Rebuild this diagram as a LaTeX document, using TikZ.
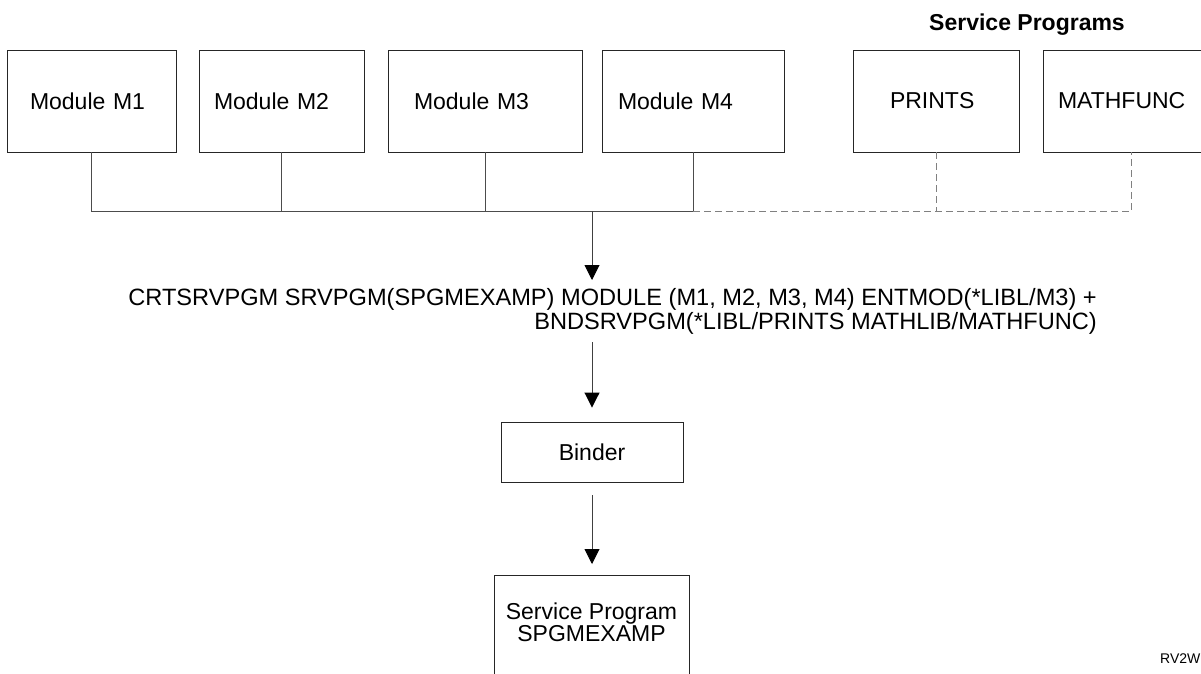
\documentclass[tikz,border=0pt]{standalone}
\usepackage{fontspec}
\setmainfont{Liberation Sans}
\usetikzlibrary{arrows.meta,calc}
\begin{document}
\begin{tikzpicture}[x=1pt,y=-1pt,
  every node/.style={font=\fontsize{23}{22}\selectfont},
  box/.style 2 args={draw=black!85,line width=0.9pt,minimum height=102pt,text width=#1,inner xsep=#2,inner ysep=0pt,align=left},
  conn/.style={draw=black!70,line width=0.9pt},
  dconn/.style={draw=black!50,line width=0.9pt,dash pattern=on 7pt off 4pt},
  arr/.style={draw=black!75,line width=0.9pt,-{Triangle[width=15pt,length=15pt,color=black]}},
  plain/.style={draw=black!85,line width=0.9pt}
]
\useasboundingbox (0,0) rectangle (1201,673);

% title
\node[anchor=base,font=\fontsize{23}{24}\selectfont\bfseries,inner sep=0pt] (sptitle) at (1027,30) {Service Programs};

% boxes
\node[box={123pt}{23pt}] (m1) at (91.5,101) {Module M1};
\node[box={135pt}{15pt}] (m2) at (281.5,101) {Module M2};
\node[box={142pt}{26pt}] (m3) at (485,101) {Module M3};
\node[box={150pt}{16pt}] (m4) at (693,101) {Module M4};
\node[box={92pt}{37pt}] (pr) at (936,101) {PRINTS};
\node[box={147pt}{15pt}] (mf) at (1131.5,101) {MATHFUNC};

% bus
\coordinate (j) at (592,211);
\draw[conn] (m1.south) -- (m1.south |- j) -- (m4.south |- j) -- (m4.south);
\draw[conn] (m2.south) -- (m2.south |- j);
\draw[conn] (m3.south) -- (m3.south |- j);
\draw[dconn] (m4.south |- j) -- (mf.south |- j) -- (mf.south);
\draw[dconn] (pr.south) -- (pr.south |- j);

% command
\node[anchor=north east,align=right,inner xsep=0pt,inner ysep=8pt,font=\fontsize{23.6}{24}\selectfont] (cmd) at (1097,280)
  {CRTSRVPGM SRVPGM(SPGMEXAMP) MODULE (M1, M2, M3, M4) ENTMOD(*LIBL/M3) +\\BNDSRVPGM(*LIBL/PRINTS MATHLIB/MATHFUNC)};

% binder
\node[plain,minimum width=182pt,minimum height=60pt] (bind) at (592,452) {Binder};

% service program
\node[plain,minimum width=195pt,minimum height=130pt,anchor=north,
  label={[name=spt,anchor=north,yshift=-24pt,align=center]north:Service Program\\SPGMEXAMP}] (sp) at (591.5,575) {};

% arrows
\draw[arr] (j) -- (j |- cmd.north);
\draw[arr,shorten >=14pt] (j |- cmd.south) -- (bind.north);
\draw[arr,shorten <=13pt,shorten >=11pt] (bind.south) -- (bind.south |- sp.north);

% figure id
\node[anchor=base west,inner sep=0pt,font=\fontsize{14}{14}\selectfont] (rv) at (1160,663) {RV2W};
\end{tikzpicture}
\end{document}
